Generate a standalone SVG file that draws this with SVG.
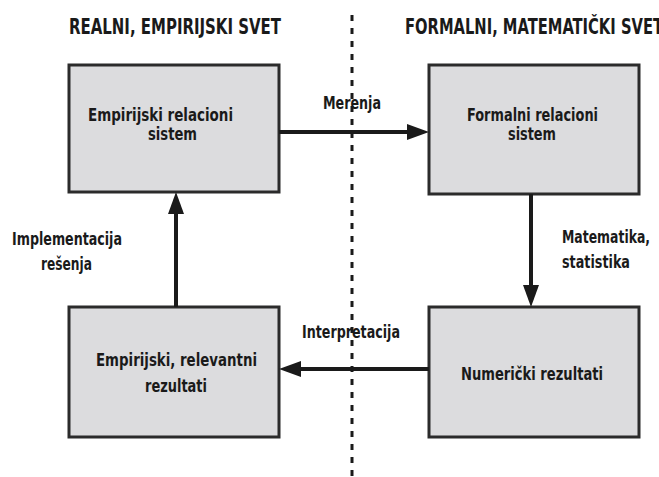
<svg xmlns="http://www.w3.org/2000/svg" width="659" height="477" viewBox="0 0 659 477">
  <defs>
    <style>
      .box { fill: #dcdcde; stroke: #2b2b2b; stroke-width: 3; }
      .txt { font-family: "Liberation Sans Narrow", "DejaVu Sans Condensed", "Liberation Sans", sans-serif; font-weight: bold; fill: #1a1a1a; }
      .head { font-size: 21px; }
      .lbl { font-size: 18px; }
      .edge { stroke: #1a1a1a; stroke-width: 4; fill: none; }
      .divider { stroke: #1a1a1a; stroke-width: 3; stroke-dasharray: 6 7; fill: none; }
    </style>
    <marker id="arrow" viewBox="0 0 22 16" refX="10" refY="8" markerWidth="22" markerHeight="16" markerUnits="userSpaceOnUse" orient="auto">
      <path d="M0,0 L22,8 L0,16 Z" fill="#1a1a1a"/>
    </marker>
  </defs>

  <rect width="659" height="477" fill="#ffffff"/>

  <!-- section headings -->
  <text class="txt head" x="69" y="34" textLength="212" lengthAdjust="spacingAndGlyphs">REALNI, EMPIRIJSKI SVET</text>
  <text class="txt head" x="405" y="34" textLength="258" lengthAdjust="spacingAndGlyphs">FORMALNI, MATEMATIČKI SVET</text>

  <!-- boundary between the two worlds -->
  <line class="divider" x1="352" y1="15" x2="352" y2="477"/>

  <!-- nodes -->
  <g id="empirijski-relacioni-sistem">
    <rect class="box" x="69" y="65" width="210" height="127"/>
    <text class="txt lbl" x="88" y="121" textLength="145" lengthAdjust="spacingAndGlyphs">Empirijski relacioni</text>
    <text class="txt lbl" x="148" y="140" textLength="49" lengthAdjust="spacingAndGlyphs">sistem</text>
  </g>

  <g id="formalni-relacioni-sistem">
    <rect class="box" x="429" y="65" width="210" height="129"/>
    <text class="txt lbl" x="467" y="121" textLength="131" lengthAdjust="spacingAndGlyphs">Formalni relacioni</text>
    <text class="txt lbl" x="508" y="140" textLength="48" lengthAdjust="spacingAndGlyphs">sistem</text>
  </g>

  <g id="empirijski-relevantni-rezultati">
    <rect class="box" x="69" y="307" width="210" height="130"/>
    <text class="txt lbl" x="96" y="366" textLength="161" lengthAdjust="spacingAndGlyphs">Empirijski, relevantni</text>
    <text class="txt lbl" x="145" y="392" textLength="62" lengthAdjust="spacingAndGlyphs">rezultati</text>
  </g>

  <g id="numericki-rezultati">
    <rect class="box" x="429" y="307" width="210" height="130"/>
    <text class="txt lbl" x="461" y="380" textLength="142" lengthAdjust="spacingAndGlyphs">Numerički rezultati</text>
  </g>

  <!-- connectors -->
  <g id="connectors">
    <line class="edge" x1="279" y1="132" x2="417" y2="132" marker-end="url(#arrow)"/>
    <text class="txt lbl" x="323" y="109" textLength="58" lengthAdjust="spacingAndGlyphs">Merenja</text>

    <line class="edge" x1="531" y1="194" x2="531" y2="295" marker-end="url(#arrow)"/>
    <text class="txt lbl" x="562" y="243" textLength="88" lengthAdjust="spacingAndGlyphs">Matematika,</text>
    <text class="txt lbl" x="562" y="268" textLength="68" lengthAdjust="spacingAndGlyphs">statistika</text>

    <line class="edge" x1="429" y1="369" x2="291" y2="369" marker-end="url(#arrow)"/>
    <text class="txt lbl" x="302" y="338" textLength="98" lengthAdjust="spacingAndGlyphs">Interpretacija</text>

    <line class="edge" x1="176" y1="307" x2="176" y2="204" marker-end="url(#arrow)"/>
    <text class="txt lbl" x="12" y="245" textLength="110" lengthAdjust="spacingAndGlyphs">Implementacija</text>
    <text class="txt lbl" x="41" y="270" textLength="51" lengthAdjust="spacingAndGlyphs">rešenja</text>
  </g>
</svg>
